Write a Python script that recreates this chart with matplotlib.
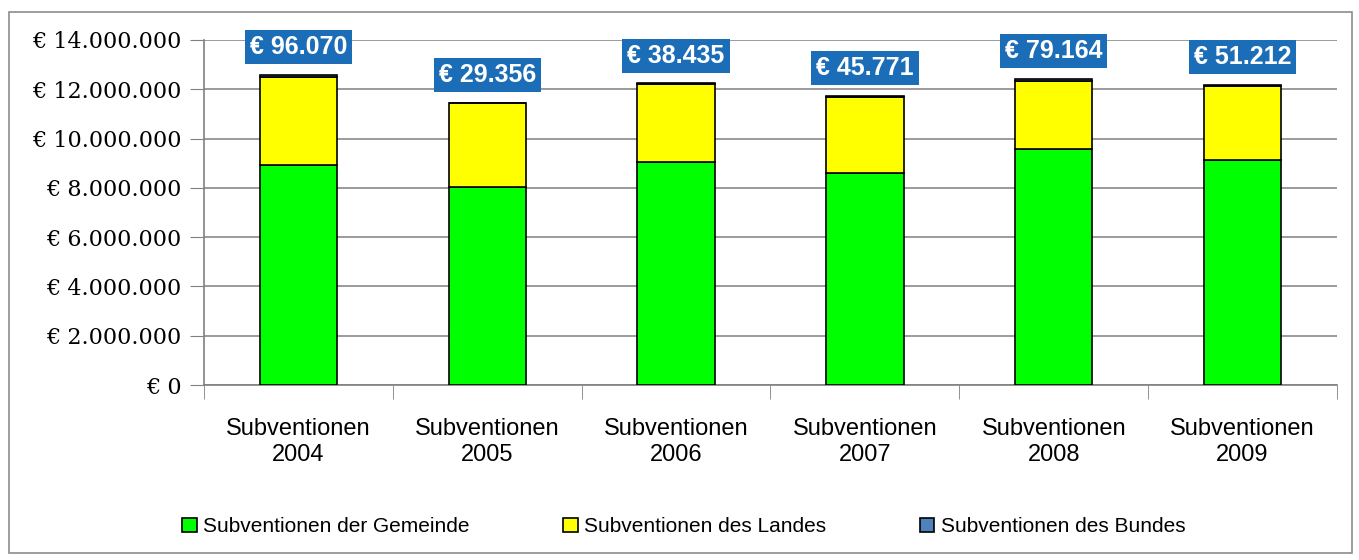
import matplotlib
matplotlib.use('Agg')
import matplotlib.pyplot as plt
import numpy as np
from matplotlib.patches import Rectangle
from matplotlib.ticker import FuncFormatter

# data
years = ['2004', '2005', '2006', '2007', '2008', '2009']
gemeinde = [8930000, 8020000, 9040000, 8590000, 9570000, 9130000]
landes = [3560000, 3410000, 3160000, 3090000, 2760000, 3000000]
bundes = [96070, 29356, 38435, 45771, 79164, 51212]
bund_labels = ['€ 96.070', '€ 29.356', '€ 38.435', '€ 45.771', '€ 79.164', '€ 51.212']
cat_labels = ['Subventionen\n' + y for y in years]
yticks = np.arange(0, 14000001, 2000000)

fig = plt.figure(figsize=(13.59, 5.6), dpi=100)
ax = fig.add_axes([0.1501, 0.3125, 0.8337, 0.6161])

x = np.arange(len(years))
w = 0.41
g = np.array(gemeinde)
l = np.array(landes)
b = np.array(bundes)
ax.bar(x, g, w, color='#00ff00', edgecolor='black', linewidth=1.2,
       label='Subventionen der Gemeinde', zorder=3)
ax.bar(x, l, w, bottom=g, color='#ffff00', edgecolor='black', linewidth=1.2,
       label='Subventionen des Landes', zorder=3)
ax.bar(x, b, w, bottom=g + l, color='#4f81bd', edgecolor='black', linewidth=1.2,
       label='Subventionen des Bundes', zorder=3)

# blue value boxes above the bars
for i in range(len(years)):
    ax.annotate(bund_labels[i], (x[i], g[i] + l[i] + b[i]), xytext=(0, 20),
                textcoords='offset points', ha='center', va='center',
                fontsize=18, fontweight='bold', color='white',
                family='Liberation Sans', annotation_clip=False,
                bbox=dict(boxstyle='square,pad=0.2', fc='#1c6db7', ec='none'))

ax.set_xlim(-0.5, len(years) - 0.5)
ax.set_ylim(0, 14000000)
ax.set_yticks(yticks)
ax.yaxis.set_major_formatter(FuncFormatter(
    lambda v, p: '€ ' + '{:,}'.format(int(v)).replace(',', '.')))
ax.set_xticks(x)
ax.set_xticklabels(cat_labels, fontsize=17, family='Liberation Sans')
ax.set_xticks(np.arange(-0.5, len(years)), minor=True)
ax.tick_params(axis='x', which='major', length=0, pad=24)
ax.tick_params(axis='x', which='minor', length=10, color='#808080', direction='out')
ax.tick_params(axis='y', length=10, color='#808080', pad=6)
for t in ax.get_yticklabels():
    t.set_family('DejaVu Serif')
    t.set_fontsize(16)

ax.grid(axis='y', color='#8a8a8a', linewidth=1.2, zorder=0)
for s in ['top', 'right']:
    ax.spines[s].set_visible(False)
ax.spines['left'].set_color('#808080')
ax.spines['bottom'].set_color('#808080')
ax.spines['left'].set_linewidth(1.2)
ax.spines['bottom'].set_linewidth(1.2)

fig.legend(loc='center', bbox_to_anchor=(0.503, 0.059), ncol=3, frameon=False,
           prop={'family': 'Liberation Sans', 'size': 15},
           handlelength=0.7, handleheight=0.7, handletextpad=0.3,
           columnspacing=4.5)

# grey frame around the whole chart
fig.patches.append(Rectangle((0.0066, 0.012), 0.9886, 0.966, transform=fig.transFigure,
                             fill=False, edgecolor='#8c8c8c', linewidth=1.2))

fig.savefig('out.png', dpi=100)
